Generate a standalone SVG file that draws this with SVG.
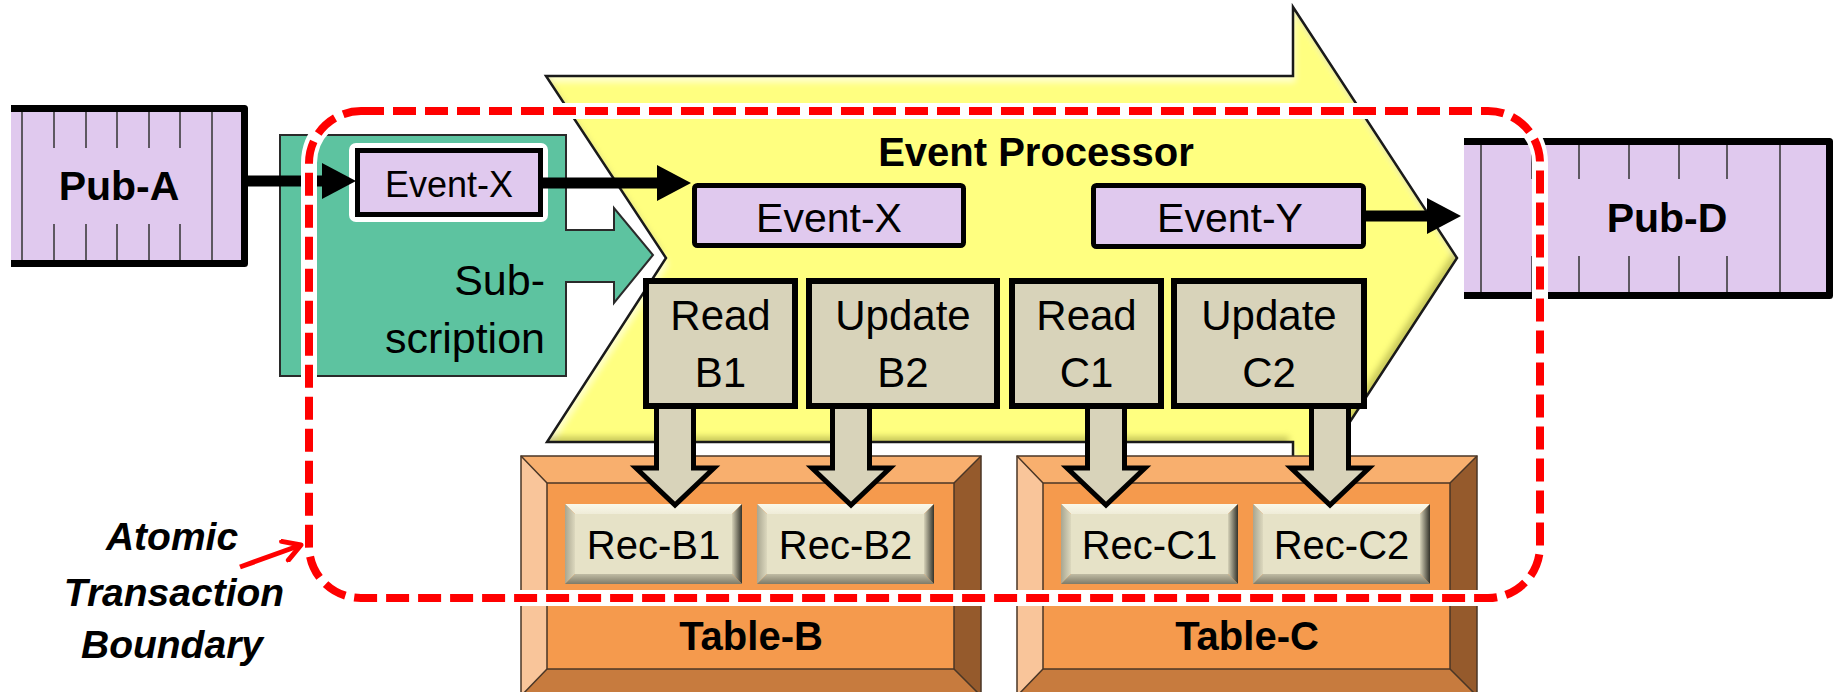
<svg xmlns="http://www.w3.org/2000/svg" xmlns:xlink="http://www.w3.org/1999/xlink" width="1833" height="692" viewBox="0 0 1833 692">
<style>
  text { font-family: "Liberation Sans", Arial, sans-serif; fill: #000; }
  .lav { fill: #E0C9EE; }
  .bar { fill: none; stroke: #000; stroke-width: 7; stroke-linejoin: round; }
  .thin { stroke: #333; stroke-width: 1.5; }
  .evbox { fill: #E0C9EE; stroke: #000; stroke-width: 5; }
  .opbox { fill: #D8D3BA; stroke: #000; stroke-width: 6; }
  .blockarrow { fill: #D8D3BA; stroke: #000; stroke-width: 5; stroke-linejoin: miter; }
  .conn { stroke: #000; stroke-width: 11; fill: none; }
  .t42 { font-size: 42px; }
  .b { font-weight: bold; }
  .tline { fill: none; stroke: #4a3626; stroke-width: 1.5; }
</style>
<defs>
  <marker id="ah" markerUnits="userSpaceOnUse" viewBox="0 0 34 36" refX="0" refY="18" markerWidth="34" markerHeight="36" orient="auto">
    <path d="M0,0 L34,18 L0,36 Z" fill="#000"/>
  </marker>
  <marker id="redopen" markerUnits="userSpaceOnUse" viewBox="0 0 24 24" refX="20" refY="12" markerWidth="24" markerHeight="24" orient="auto">
    <path d="M3,2 L20,12 L3,22" fill="none" stroke="#FF0000" stroke-width="5" stroke-linecap="round" stroke-linejoin="round"/>
  </marker>
  <filter id="bev" x="-5%" y="-5%" width="110%" height="110%">
    <feGaussianBlur in="SourceAlpha" stdDeviation="3" result="blur"/>
    <feOffset in="blur" dx="2" dy="6" result="offDown"/>
    <feComposite in="SourceAlpha" in2="offDown" operator="out" result="topEdge"/>
    <feFlood flood-color="#FFFFD8" flood-opacity="0.85"/>
    <feComposite in2="topEdge" operator="in" result="hl"/>
    <feOffset in="blur" dx="-4" dy="-6" result="offUp"/>
    <feComposite in="SourceAlpha" in2="offUp" operator="out" result="botEdge"/>
    <feFlood flood-color="#8A8A20" flood-opacity="0.55"/>
    <feComposite in2="botEdge" operator="in" result="sh"/>
    <feMerge><feMergeNode in="SourceGraphic"/><feMergeNode in="hl"/><feMergeNode in="sh"/></feMerge>
  </filter>
  <linearGradient id="gL" x1="0" y1="0" x2="1" y2="0">
    <stop offset="0" stop-color="#A9A690"/><stop offset="1" stop-color="#DCD8BE"/>
  </linearGradient>
  <linearGradient id="gR" x1="0" y1="0" x2="1" y2="0">
    <stop offset="0" stop-color="#D6D2B8"/><stop offset="1" stop-color="#34332B"/>
  </linearGradient>
  <linearGradient id="gB" x1="0" y1="0" x2="0" y2="1">
    <stop offset="0" stop-color="#C0BCA4"/><stop offset="1" stop-color="#7E7B68"/>
  </linearGradient>
  <linearGradient id="gT" x1="0" y1="0" x2="0" y2="1">
    <stop offset="0" stop-color="#FAF8EA"/><stop offset="1" stop-color="#EFECD8"/>
  </linearGradient>
  <g id="recbtn">
    <rect x="10" y="10" width="157" height="60" fill="#E6E2C7"/>
    <polygon points="0,0 177,0 167,10 10,10" fill="url(#gT)"/>
    <polygon points="0,0 10,10 10,70 0,80" fill="url(#gL)"/>
    <polygon points="177,0 177,80 167,70 167,10" fill="url(#gR)"/>
    <polygon points="0,80 10,70 167,70 177,80" fill="url(#gB)"/>
  </g>
  <g id="table">
    <polygon points="521,456 981,456 954,483 547,483" fill="#F8AF6E"/>
    <polygon points="521,456 547,483 547,669 521,696" fill="#F9C59A"/>
    <polygon points="981,456 981,696 954,669 954,483" fill="#955A2C"/>
    <polygon points="521,696 547,669 954,669 981,696" fill="#C77B3E"/>
    <rect x="547" y="483" width="407" height="186" fill="#F59A4D"/>
    <rect x="521" y="456" width="460" height="240" class="tline"/>
    <rect x="547" y="483" width="407" height="186" class="tline"/>
    <path d="M521,456 L547,483 M981,456 L954,483 M521,696 L547,669 M981,696 L954,669" class="tline"/>
  </g>
</defs>

<rect x="0" y="0" width="1833" height="692" fill="#fff"/>

<g id="subscription">
  <polygon points="280,135 566,135 566,230 614,230 614,208 653,255 614,303 614,282 566,282 566,376 280,376" fill="#5DC3A0" stroke="#2a2a2a" stroke-width="2"/>
  <text x="545" y="295" text-anchor="end" style="font-size:43px">Sub-</text>
  <text x="545" y="353" text-anchor="end" style="font-size:43px">scription</text>
</g>

<g id="pub-a">
  <rect x="11" y="108" width="234" height="156" class="lav"/>
  <path d="M22,112 V260 M212,112 V260 M54,112 V148 M86,112 V148 M117,112 V148 M149,112 V148 M180,112 V148 M54,224 V260 M86,224 V260 M117,224 V260 M149,224 V260 M180,224 V260" class="thin"/>
  <path d="M11,108.5 H244.5 V263.5 H11" class="bar"/>
  <text class="b" x="119" y="200" text-anchor="middle" style="font-size:41px">Pub-A</text>
</g>

<g id="event-processor">
  <polygon points="546,76 1293,76 1293,7 1457,258 1293,509 1293,442 547,442 666,258" fill="#FFFF80" filter="url(#bev)"/>
  <polygon points="546,76 1293,76 1293,7 1457,258 1293,509 1293,442 547,442 666,258" fill="none" stroke="#1a1a1a" stroke-width="2.5" stroke-linejoin="miter"/>
  <text class="b" x="1036" y="166" text-anchor="middle" style="font-size:40px">Event Processor</text>
</g>

<g id="event-x-sub">
  <rect x="349" y="143" width="199" height="79" rx="7" fill="#fff"/>
  <rect x="357.5" y="150.5" width="183" height="64" class="evbox"/>
  <text x="449" y="197" text-anchor="middle" style="font-size:36px">Event-X</text>
</g>

<g id="event-x">
  <rect x="694.5" y="185.5" width="269" height="60" rx="3" class="evbox"/>
  <text x="829" y="232" text-anchor="middle" style="font-size:41px">Event-X</text>
</g>

<g id="event-y">
  <rect x="1093.5" y="185.5" width="270" height="61" rx="3" class="evbox"/>
  <text x="1230" y="232" text-anchor="middle" style="font-size:41px">Event-Y</text>
</g>

<g id="pub-d">
  <rect x="1464" y="141" width="369" height="154" class="lav"/>
  <path d="M1481,145 V292 M1780,145 V292 M1532,145 V179 M1579,145 V179 M1629,145 V179 M1679,145 V179 M1727,145 V179 M1532,256 V292 M1579,256 V292 M1629,256 V292 M1679,256 V292 M1727,256 V292" class="thin"/>
  <path d="M1464,141.5 H1829.5 V295.5 H1464" class="bar"/>
  <text class="b" x="1667" y="232" text-anchor="middle" style="font-size:41px">Pub-D</text>
</g>

<g id="table-b">
  <use xlink:href="#table"/>
  <text class="b" x="751" y="650" text-anchor="middle" style="font-size:40px">Table-B</text>
</g>
<g id="table-c">
  <use xlink:href="#table" transform="translate(496,0)"/>
  <text class="b" x="1247" y="650" text-anchor="middle" style="font-size:40px">Table-C</text>
</g>

<g id="rec-b1">
  <use xlink:href="#recbtn" x="565" y="504"/>
  <text x="653.5" y="559" text-anchor="middle" style="font-size:40px">Rec-B1</text>
</g>
<g id="rec-b2">
  <use xlink:href="#recbtn" x="757" y="504"/>
  <text x="845.5" y="559" text-anchor="middle" style="font-size:40px">Rec-B2</text>
</g>
<g id="rec-c1">
  <use xlink:href="#recbtn" x="1061" y="504"/>
  <text x="1149.5" y="559" text-anchor="middle" style="font-size:40px">Rec-C1</text>
</g>
<g id="rec-c2">
  <use xlink:href="#recbtn" x="1253" y="504"/>
  <text x="1341.5" y="559" text-anchor="middle" style="font-size:40px">Rec-C2</text>
</g>

<g id="connectors">
  <polygon class="blockarrow" points="656.5,400 693.5,400 693.5,468 714,468 675,505 636,468 656.5,468"/>
  <polygon class="blockarrow" points="832.5,400 869.5,400 869.5,468 890,468 851,505 812,468 832.5,468"/>
  <polygon class="blockarrow" points="1087.5,400 1124.5,400 1124.5,468 1145,468 1106,505 1067,468 1087.5,468"/>
  <polygon class="blockarrow" points="1311.5,400 1348.5,400 1348.5,468 1369,468 1330,505 1291,468 1311.5,468"/>
  <line x1="248" y1="181" x2="322" y2="181" class="conn" marker-end="url(#ah)"/>
  <line x1="543" y1="183" x2="657" y2="183" class="conn" marker-end="url(#ah)"/>
  <line x1="1366" y1="216" x2="1427" y2="216" class="conn" marker-end="url(#ah)"/>
</g>

<g id="read-b1">
  <rect x="646" y="281" width="149" height="125" class="opbox"/>
  <text class="t42" x="720.5" y="330" text-anchor="middle">Read</text>
  <text class="t42" x="720.5" y="387" text-anchor="middle">B1</text>
</g>
<g id="update-b2">
  <rect x="809" y="281" width="188" height="125" class="opbox"/>
  <text class="t42" x="903" y="330" text-anchor="middle">Update</text>
  <text class="t42" x="903" y="387" text-anchor="middle">B2</text>
</g>
<g id="read-c1">
  <rect x="1012" y="281" width="149" height="125" class="opbox"/>
  <text class="t42" x="1086.5" y="330" text-anchor="middle">Read</text>
  <text class="t42" x="1086.5" y="387" text-anchor="middle">C1</text>
</g>
<g id="update-c2">
  <rect x="1174" y="281" width="190" height="125" class="opbox"/>
  <text class="t42" x="1269" y="330" text-anchor="middle">Update</text>
  <text class="t42" x="1269" y="387" text-anchor="middle">C2</text>
</g>

<g id="atomic-boundary">
  <rect x="309" y="111" width="1231" height="487" rx="52" fill="none" stroke="#fff" stroke-width="16"/>
  <rect x="309" y="111" width="1231" height="487" rx="52" fill="none" stroke="#FF0000" stroke-width="8" stroke-dasharray="23 9"/>
</g>

<g id="boundary-label">
  <line x1="240" y1="567" x2="301" y2="545" stroke="#FF0000" stroke-width="5" marker-end="url(#redopen)"/>
  <text class="b" x="172" y="550" text-anchor="middle" font-style="italic" style="font-size:39px">Atomic</text>
  <text class="b" x="174" y="606" text-anchor="middle" font-style="italic" style="font-size:39px">Transaction</text>
  <text class="b" x="172" y="658" text-anchor="middle" font-style="italic" style="font-size:39px">Boundary</text>
</g>
</svg>
